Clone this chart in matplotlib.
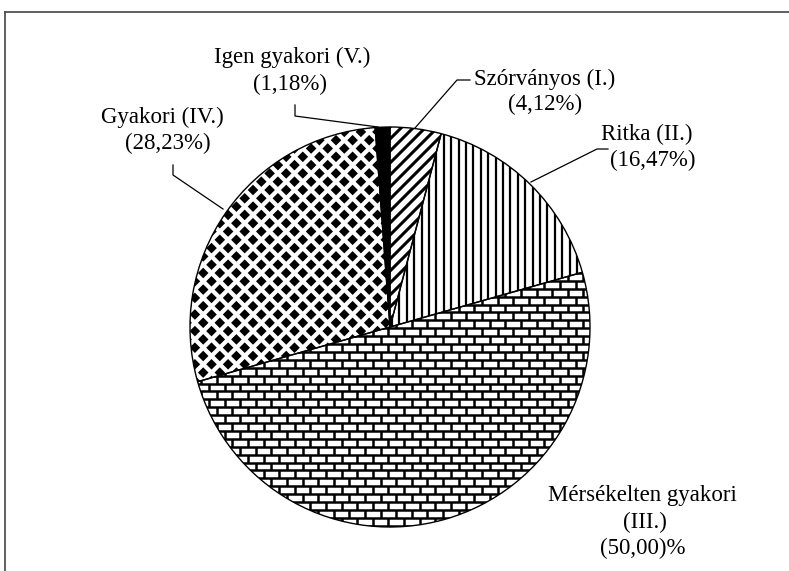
import numpy as np
import matplotlib.pyplot as plt
from matplotlib.collections import LineCollection, PolyCollection
from matplotlib.lines import Line2D

plt.rcParams['font.family'] = ['Liberation Serif', 'DejaVu Serif']

# shares, clockwise from 12 o'clock
names = ['Szórványos (I.)', 'Ritka (II.)', 'Mérsékelten gyakori',
         'Gyakori (IV.)', 'Igen gyakori (V.)']
shares = [4.12, 16.47, 50.00, 28.23, 1.18]
share_txt = ['(4,12%)', '(16,47%)', '(50,00)%', '(28,23%)', '(1,18%)']

W, H = 789, 571
fig = plt.figure(figsize=(W / 100, H / 100), dpi=100)
ax = fig.add_axes([0, 0, 1, 1])

cx, cy, r = 390, 327, 200
# y axis gets inverted, so start at -90 and go "counterclock" = clockwise on screen
wedges, _ = ax.pie(shares, startangle=-90, counterclock=True, center=(cx, cy), radius=r,
                   wedgeprops=dict(facecolor='white', edgecolor='none'), frame=True)

x0, x1, y0, y1 = cx - r - 20, cx + r + 20, cy - r - 20, cy + r + 20

# I. diagonal stripes
segs = []
for c in np.arange(x0 + y0, x1 + y1 + 1, 12):
    segs.append([(c - y1, y1), (c - y0, y0)])
lc = LineCollection(segs, colors='black', linewidths=2.2, zorder=2)
lc.set_clip_path(wedges[0])
ax.add_collection(lc)

# II. vertical lines
segs = [[(x, y0), (x, y1)] for x in np.arange(x0, x1, 7.4)]
lc = LineCollection(segs, colors='black', linewidths=1.6, zorder=2)
lc.set_clip_path(wedges[1])
ax.add_collection(lc)

# III. bricks
bh, bw = 7.9, 15.6
segs = []
rows = np.arange(y0, y1, bh)
for k, yy in enumerate(rows):
    segs.append([(x0, yy), (x1, yy)])
    off = (k % 2) * bw / 2
    for xx in np.arange(x0 + off, x1, bw):
        segs.append([(xx, yy), (xx, yy + bh)])
lc = LineCollection(segs, colors='black', linewidths=1.8, zorder=2)
lc.set_clip_path(wedges[2])
ax.add_collection(lc)

# IV. diamonds
s, hd = 8.3, 5.3
polys = []
for i, xx in enumerate(np.arange(x0, x1, s)):
    for j, yy in enumerate(np.arange(y0, y1, s)):
        if (i + j) % 2 == 0:
            polys.append([(xx - hd, yy), (xx, yy - hd), (xx + hd, yy), (xx, yy + hd)])
pc = PolyCollection(polys, facecolors='black', edgecolors='none', zorder=2)
pc.set_clip_path(wedges[3])
ax.add_collection(pc)

# V. solid black
wedges[4].set_facecolor('black')

# outlines on top
ax.pie(shares, startangle=-90, counterclock=True, center=(cx, cy), radius=r,
       wedgeprops=dict(fill=False, edgecolor='black', linewidth=1.0, zorder=3), frame=True)
ax.set_xlim(0, W)
ax.set_ylim(H, 0)   # pixel-like coords, y down
ax.axis('off')

# labels and leader lines
tk = dict(fontsize=16.5, ha='center', va='center', color='black')
ax.text(292, 57, names[4], **tk)
ax.text(290, 84, share_txt[4], **tk)
ax.text(545, 79, names[0], **tk)
ax.text(545, 104, share_txt[0], **tk)
ax.text(647, 134, names[1], **tk)
ax.text(653, 160, share_txt[1], **tk)
ax.text(162, 117, names[3], **tk)
ax.text(168, 143, share_txt[3], **tk)
ax.text(642, 496, names[2], **tk)
ax.text(645, 522, '(III.)', **tk)
ax.text(643, 548, share_txt[2], **tk)

lk = dict(color='black', linewidth=0.9, zorder=4)
ax.plot([295, 295, 378], [105, 116, 127], **lk)
ax.plot([415, 457, 470], [128, 80, 80], **lk)
ax.plot([531, 597, 608], [182, 149, 149], **lk)
ax.plot([173, 173, 223], [165, 175, 209], **lk)

# scan frame (top and left edges)
fig.add_artist(Line2D([5 / W, 1], [1 - 12 / H, 1 - 12 / H], color='#444444', linewidth=1.2))
fig.add_artist(Line2D([5 / W, 5 / W], [0, 1 - 12 / H], color='#444444', linewidth=1.2))

fig.savefig('out.png', dpi=100, facecolor='white')
